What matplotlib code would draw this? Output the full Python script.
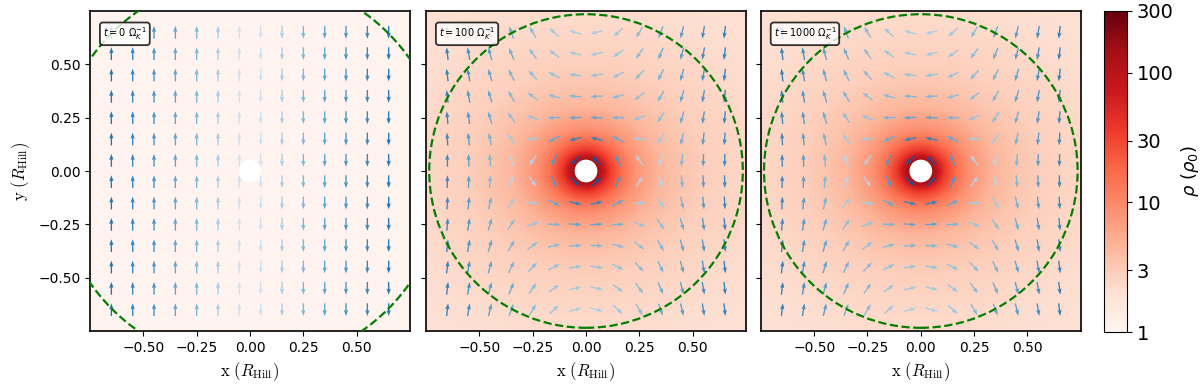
import numpy as np
import matplotlib
matplotlib.use('Agg')
import matplotlib.pyplot as plt
from matplotlib.colors import LogNorm, PowerNorm, ListedColormap
from matplotlib.patches import Circle

# Panel labels (time in units of 1/Omega_K)
time_labels = ["0", "100", "1000"]

# Radius of the dashed green circle in each panel (R_Hill)
circle_radius = [0.915, 0.735, 0.735]

# Background density per panel (rho_0) and whether the planet envelope has formed
background_rho = [1.05, 1.0, 1.0]
has_envelope = [False, True, True]

profile_r = [0.05, 0.07, 0.10, 0.15, 0.20, 0.30, 0.40, 0.50, 0.75, 1.10]
profile_rho = [150, 80, 35, 15, 8.5, 4.6, 3.4, 2.8, 2.2, 1.8]
envelope_stretch_x = 1.15   # envelope slightly wider along x

# Flow: Keplerian shear (vy = -shear * x) plus planet circulation
shear = 1.5
circulation = [0.0, 0.135, 0.135]   # strength of the circulation term per panel

# Arrow grid positions (R_Hill)
arrow_pos = [-0.65, -0.55, -0.45, -0.35, -0.25, -0.15, -0.05,
             0.05, 0.15, 0.25, 0.35, 0.45, 0.55, 0.65]

ticks = [-0.50, -0.25, 0.00, 0.25, 0.50]
cbar_ticks = [1, 3, 10, 30, 100, 300]
planet_radius = 0.05
lim = 0.75

fig = plt.figure(figsize=(12, 3.92), dpi=100)
lefts = [0.075, 0.355, 0.634]
axes = [fig.add_axes([l, 0.1556, 0.2667, 0.8163]) for l in lefts]
cax = fig.add_axes([0.92, 0.153, 0.0192, 0.819])

# fine grid for the density image
g = np.linspace(-lim, lim, 400)
GX, GY = np.meshgrid(g, g)
R_env = np.sqrt((GX / envelope_stretch_x) ** 2 + GY ** 2)

AX, AY = np.meshgrid(arrow_pos, arrow_pos)
AR2 = AX ** 2 + AY ** 2

blues = ListedColormap(plt.cm.Blues(np.linspace(0.0, 0.85, 256)))
rho_norm = LogNorm(vmin=1, vmax=300)

for i, ax in enumerate(axes):
    if has_envelope[i]:
        rho = np.exp(np.interp(R_env, profile_r, np.log(profile_rho)))
        rho = rho * background_rho[i]
    else:
        rho = np.full_like(GX, background_rho[i])
    im = ax.imshow(rho, extent=[-lim, lim, -lim, lim], origin='lower',
                   cmap='Reds', norm=rho_norm, interpolation='bilinear')

    # velocity field from stream function 0.75 x^2 - b ln r
    b = circulation[i]
    u = -b * AY / AR2
    v = -shear * AX + b * AX / AR2
    speed = np.hypot(u, v)
    ax.quiver(AX, AY, u / speed, v / speed, speed, cmap=blues,
              norm=PowerNorm(gamma=0.5, vmin=0, vmax=1.32),
              pivot='middle', angles='xy', scale_units='xy', scale=1 / 0.06,
              width=0.0042, headwidth=3.2, headlength=4.5, headaxislength=4.0)

    ax.add_patch(Circle((0, 0), planet_radius, color='white', zorder=3))
    ax.add_patch(Circle((0, 0), circle_radius[i], fill=False, ec='green',
                        ls='--', lw=1.6, zorder=4))

    ax.text(0.04, 0.955, r"$t = %s\ \Omega_K^{-1}$" % time_labels[i],
            transform=ax.transAxes, fontsize=7, va='top', ha='left', zorder=5,
            bbox=dict(boxstyle='round,pad=0.3', fc='white', ec='black',
                      lw=1.3, alpha=0.8))

    ax.set_xlim(-lim, lim)
    ax.set_ylim(-lim, lim)
    ax.set_xticks(ticks)
    ax.set_yticks(ticks)
    ax.set_xlabel(r"$\mathrm{x}\ (R_\mathrm{Hill})$", fontsize=12,
                  math_fontfamily='cm')
    if i == 0:
        ax.set_ylabel(r"$\mathrm{y}\ (R_\mathrm{Hill})$", fontsize=12,
                      math_fontfamily='cm')
    else:
        ax.set_yticklabels([])
    for s in ax.spines.values():
        s.set_linewidth(1.2)

cb = fig.colorbar(im, cax=cax, ticks=cbar_ticks)
cb.ax.set_yticklabels([str(t) for t in cbar_ticks])
cb.ax.minorticks_off()
cb.ax.tick_params(labelsize=14)
cb.set_label(r"$\rho\ (\rho_0)$", fontsize=13)

fig.savefig('out.png', dpi=100)
